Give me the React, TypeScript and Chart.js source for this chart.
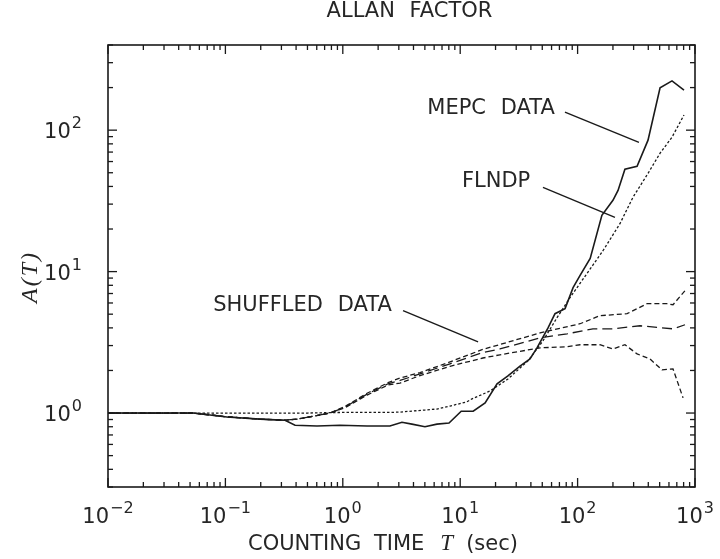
import React, { useEffect, useRef } from "react";
import { Chart, registerables } from "chart.js";

Chart.register(...registerables);

// ---------- texts ----------
const TITLE = "ALLAN FACTOR";
const X_TITLE_MAIN = "COUNTING TIME";
const X_TITLE_VAR = "T";
const X_TITLE_UNIT = "(sec)";
const Y_TITLE = "A(T)";

// ---------- axes ----------
const X_MIN = 0.01;
const X_MAX = 1000;
const Y_MIN = 0.3;
const Y_MAX = 400;
const X_TICK_EXPONENTS = [-2, -1, 0, 1, 2, 3];
const Y_TICK_EXPONENTS = [0, 1, 2];
const MINOR_MULTIPLIERS = [2, 3, 4, 5, 6, 7, 8, 9];

// ---------- data (counting time T in sec, Allan factor A(T)) ----------
const MEPC_T = [0.01, 0.053, 0.103, 0.197, 0.322, 0.392, 0.603, 0.946, 1.61, 2.52, 3.19, 3.88, 5.01, 6.34, 8.03, 10.2, 12.9, 16.3, 20.6, 25.5, 32.3, 39.3, 45.1, 56, 64.2, 78.2, 91.5, 105, 128, 161, 200, 221, 253, 321, 398, 504, 637, 806];
const MEPC_A = [1.0, 1.0, 0.937, 0.906, 0.89, 0.82, 0.81, 0.82, 0.81, 0.81, 0.86, 0.835, 0.8, 0.835, 0.85, 1.03, 1.03, 1.18, 1.61, 1.83, 2.15, 2.41, 2.89, 4.0, 5.04, 5.47, 7.7, 9.4, 12.4, 25, 31.9, 37.5, 52.9, 55.6, 85, 199, 223, 192];

const FLNDP_T = [0.01, 0.5, 1.0, 2.52, 3.07, 5.01, 6.34, 8.19, 11.4, 12.6, 17.9, 25.5, 37.8, 50.7, 66.8, 86.1, 120, 165, 230, 296, 398, 504, 637, 806];
const FLNDP_A = [1.0, 1.0, 1.01, 1.01, 1.016, 1.05, 1.067, 1.12, 1.2, 1.26, 1.43, 1.74, 2.34, 3.24, 4.72, 6.54, 9.68, 14.1, 21.9, 33.5, 49.5, 68.7, 89.2, 128];

const SHUF_HIGH_T = [0.01, 0.053, 0.103, 0.197, 0.322, 0.407, 0.56, 0.778, 1.04, 1.61, 2.43, 3.07, 4.55, 8.19, 15.6, 21.8, 47.9, 105, 155, 264, 390, 578, 650, 822];
const SHUF_HIGH_A = [1.0, 1.0, 0.94, 0.905, 0.89, 0.905, 0.95, 1.0, 1.11, 1.38, 1.64, 1.77, 1.93, 2.3, 2.82, 3.05, 3.69, 4.28, 4.88, 5.04, 5.93, 5.93, 5.83, 7.33];

const SHUF_MID_T = [0.01, 0.053, 0.103, 0.197, 0.322, 0.407, 0.56, 0.778, 1.04, 1.61, 2.43, 3.07, 4.55, 8.19, 15.6, 21.8, 47.9, 81.3, 135, 200, 340, 504, 650, 822];
const SHUF_MID_A = [1.0, 1.0, 0.94, 0.905, 0.89, 0.905, 0.95, 1.0, 1.1, 1.36, 1.61, 1.7, 1.89, 2.23, 2.68, 2.84, 3.4, 3.63, 3.94, 3.94, 4.14, 4.01, 3.94, 4.21];

const SHUF_LOW_T = [0.01, 0.053, 0.103, 0.197, 0.322, 0.407, 0.56, 0.778, 1.04, 1.61, 2.43, 3.07, 4.55, 8.19, 15.6, 21.8, 47.9, 81.3, 105, 155, 200, 253, 321, 414, 524, 650, 791];
const SHUF_LOW_A = [1.0, 1.0, 0.94, 0.905, 0.89, 0.905, 0.95, 1.0, 1.09, 1.34, 1.58, 1.63, 1.84, 2.14, 2.45, 2.58, 2.89, 2.94, 3.04, 3.04, 2.84, 3.04, 2.62, 2.41, 2.02, 2.05, 1.28];

// ---------- annotations (data coordinates) ----------
const ANNOTATION_TEXT = ["MEPC DATA", "FLNDP", "SHUFFLED DATA"];
const ANNOTATION_LABEL_T = [18.3, 20.2, 0.4535];
const ANNOTATION_LABEL_A = [143, 43.1, 5.79];
const LEADER_FROM_T = [78, 50.7, 3.26];
const LEADER_FROM_A = [134, 39.4, 5.29];
const LEADER_TO_T = [333, 208, 14.2];
const LEADER_TO_A = [82, 24.2, 3.19];

const SANS = "'DejaVu Sans', 'Liberation Sans', sans-serif";
const SERIF = "'Liberation Serif', 'DejaVu Serif', serif";
const INK = "#1a1a1a";
const TEXT_INK = "#262626";

const toPoints = (t: number[], a: number[]) => t.map((v, i) => ({ x: v, y: a[i] }));

function tickValues(min: number, max: number) {
  const out: { v: number; major: boolean }[] = [];
  const e0 = Math.floor(Math.log10(min)) - 1;
  const e1 = Math.ceil(Math.log10(max)) + 1;
  for (let e = e0; e <= e1; e++) {
    const p = Math.pow(10, e);
    if (p >= min * 0.999 && p <= max * 1.001) out.push({ v: p, major: true });
    MINOR_MULTIPLIERS.forEach((m) => {
      const v = m * p;
      if (v >= min * 0.999 && v <= max * 1.001) out.push({ v, major: false });
    });
  }
  return out;
}

function drawPower(ctx: CanvasRenderingContext2D, exp: number, x: number, baseline: number, align: "center" | "right") {
  const base = "10";
  const sup = exp < 0 ? "\u2212" + Math.abs(exp) : String(exp);
  ctx.font = `21px ${SANS}`;
  const wb = ctx.measureText(base).width;
  ctx.font = `16px ${SANS}`;
  const ws = ctx.measureText(sup).width;
  const total = wb + ws + 1;
  const left = align === "center" ? x - total / 2 : x - total;
  ctx.textAlign = "left";
  ctx.textBaseline = "alphabetic";
  ctx.font = `21px ${SANS}`;
  ctx.fillText(base, left, baseline);
  ctx.font = `16px ${SANS}`;
  ctx.fillText(sup, left + wb + 1, baseline - 10);
}

const framePlugin = {
  id: "allanFrame",
  afterDraw(chart: any) {
    const ctx: CanvasRenderingContext2D = chart.ctx;
    const a = chart.chartArea;
    const xs = chart.scales.x;
    const ys = chart.scales.y;
    const L = Math.round(a.left);
    const R = Math.round(a.right);
    const T = Math.round(a.top);
    const B = Math.round(a.bottom);
    ctx.save();
    ctx.setLineDash([]);
    ctx.globalAlpha = 1;
    ctx.globalCompositeOperation = "source-over";
    ctx.fillStyle = INK;
    ctx.strokeStyle = INK;

    // inward ticks on all four sides (filled rectangles)
    const tw = 1.3;
    tickValues(X_MIN, X_MAX).forEach(({ v, major }) => {
      const px = xs.getPixelForValue(v);
      const len = major ? 9 : 5;
      ctx.fillRect(px - tw / 2, B - len, tw, len);
      ctx.fillRect(px - tw / 2, T, tw, len);
    });
    tickValues(Y_MIN, Y_MAX).forEach(({ v, major }) => {
      const py = ys.getPixelForValue(v);
      const len = major ? 9 : 5;
      ctx.fillRect(L, py - tw / 2, len, tw);
      ctx.fillRect(R - len, py - tw / 2, len, tw);
    });

    // frame
    ctx.lineWidth = 1.6;
    ctx.strokeRect(L, T, R - L, B - T);

    ctx.fillStyle = TEXT_INK;
    // tick labels
    X_TICK_EXPONENTS.forEach((e) => {
      drawPower(ctx, e, xs.getPixelForValue(Math.pow(10, e)), B + 36, "center");
    });
    Y_TICK_EXPONENTS.forEach((e) => {
      drawPower(ctx, e, L - 26, ys.getPixelForValue(Math.pow(10, e)) + 8, "right");
    });

    // title
    ctx.font = `21px ${SANS}`;
    ctx.textAlign = "center";
    ctx.textBaseline = "middle";
    (ctx as any).wordSpacing = "8px";
    ctx.fillText(TITLE, (L + R) / 2 + 8, 12);

    // x axis title
    ctx.textBaseline = "alphabetic";
    ctx.textAlign = "left";
    (ctx as any).wordSpacing = "6px";
    ctx.font = `21px ${SANS}`;
    const mainW = ctx.measureText(X_TITLE_MAIN).width;
    ctx.font = `italic 23px ${SERIF}`;
    const varW = ctx.measureText(X_TITLE_VAR).width;
    let cx = L + 140;
    const by = B + 63;
    ctx.font = `21px ${SANS}`;
    ctx.fillText(X_TITLE_MAIN, cx, by);
    cx += mainW + 16;
    ctx.font = `italic 23px ${SERIF}`;
    ctx.fillText(X_TITLE_VAR, cx, by);
    cx += varW + 13;
    ctx.font = `21px ${SANS}`;
    ctx.fillText(X_TITLE_UNIT, cx, by);

    // y axis title
    ctx.save();
    ctx.translate(31, (T + B) / 2 + 11);
    ctx.rotate(-Math.PI / 2);
    ctx.font = `italic 24px ${SERIF}`;
    (ctx as any).letterSpacing = "2px";
    ctx.textAlign = "center";
    ctx.textBaseline = "middle";
    ctx.fillText(Y_TITLE, 0, 0);
    ctx.restore();

    // annotations
    (ctx as any).wordSpacing = "8px";
    ctx.font = `21px ${SANS}`;
    ctx.textAlign = "center";
    ctx.textBaseline = "middle";
    ctx.lineWidth = 1.4;
    ANNOTATION_TEXT.forEach((txt, i) => {
      ctx.fillText(txt, xs.getPixelForValue(ANNOTATION_LABEL_T[i]), ys.getPixelForValue(ANNOTATION_LABEL_A[i]));
      ctx.beginPath();
      ctx.moveTo(xs.getPixelForValue(LEADER_FROM_T[i]), ys.getPixelForValue(LEADER_FROM_A[i]));
      ctx.lineTo(xs.getPixelForValue(LEADER_TO_T[i]), ys.getPixelForValue(LEADER_TO_A[i]));
      ctx.stroke();
    });
    (ctx as any).wordSpacing = "0px";
    ctx.restore();
  },
};

export default function App() {
  const canvasRef = useRef<HTMLCanvasElement | null>(null);

  useEffect(() => {
    const canvas = canvasRef.current;
    if (!canvas) return;
    const line = (label: string, t: number[], a: number[], width: number, dash: number[]) => ({
      label,
      data: toPoints(t, a),
      borderColor: INK,
      backgroundColor: INK,
      borderWidth: width,
      borderDash: dash,
      pointRadius: 0,
      tension: 0,
      fill: false,
    });
    const chart = new Chart(canvas, {
      type: "line",
      data: {
        datasets: [
          line("MEPC DATA", MEPC_T, MEPC_A, 1.6, []),
          line("FLNDP", FLNDP_T, FLNDP_A, 1.3, [2.5, 2]),
          line("SHUFFLED DATA (high)", SHUF_HIGH_T, SHUF_HIGH_A, 1.3, [5, 3]),
          line("SHUFFLED DATA (mid)", SHUF_MID_T, SHUF_MID_A, 1.3, [10, 5]),
          line("SHUFFLED DATA (low)", SHUF_LOW_T, SHUF_LOW_A, 1.3, [5, 3]),
        ],
      },
      options: {
        responsive: false,
        maintainAspectRatio: false,
        devicePixelRatio: 1,
        animation: false,
        events: [],
        layout: { padding: { left: 108, right: 25, top: 45, bottom: 72 } },
        plugins: { legend: { display: false }, tooltip: { enabled: false }, title: { display: false } },
        scales: {
          x: { type: "logarithmic", min: X_MIN, max: X_MAX, display: false },
          y: { type: "logarithmic", min: Y_MIN, max: Y_MAX, display: false },
        },
      },
      plugins: [framePlugin],
    });
    return () => chart.destroy();
  }, []);

  return (
    <div style={{ position: "absolute", left: 0, top: 0, width: 720, height: 559, background: "#fff" }}>
      <canvas ref={canvasRef} width={720} height={559} style={{ display: "block", width: 720, height: 559 }} />
    </div>
  );
}
